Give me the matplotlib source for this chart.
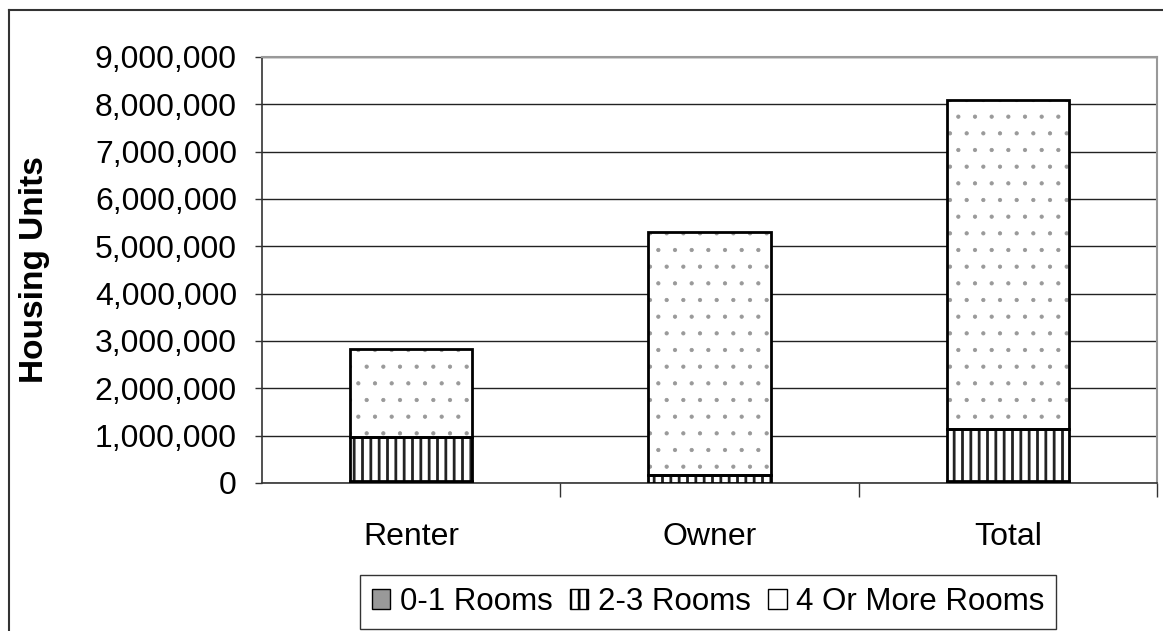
import matplotlib
matplotlib.use("Agg")
import matplotlib.pyplot as plt
from matplotlib.patches import Patch
from matplotlib.lines import Line2D
import numpy as np

categories = ["Renter", "Owner", "Total"]
rooms_0_1 = [40000, 6000, 46000]
rooms_2_3 = [930000, 164000, 1094000]
rooms_4_plus = [1860000, 5130000, 6960000]
series_labels = ["0-1 Rooms", "2-3 Rooms", "4 Or More Rooms"]
y_ticks = list(range(0, 9000001, 1000000))

plt.rcParams['font.family'] = ['Liberation Sans', 'DejaVu Sans']
plt.rcParams['hatch.linewidth'] = 2.0

fig = plt.figure(figsize=(11.63, 6.31), dpi=100)
ax = fig.add_axes([262/1163, 1-483/631, (1157-262)/1163, (483-57)/631])

x = np.arange(len(categories))
w = 0.41
b1 = np.array(rooms_0_1, dtype=float)
b2 = b1 + np.array(rooms_2_3)

ax.bar(x, rooms_0_1, w, color="#999999", edgecolor="black", linewidth=2, zorder=3)
ax.bar(x, rooms_2_3, w, bottom=b1, color="white", edgecolor="#222222", hatch="||", linewidth=0, zorder=3)
ax.bar(x, rooms_2_3, w, bottom=b1, color="none", edgecolor="black", linewidth=2, zorder=4)
with plt.rc_context({'hatch.linewidth': 0.6}):
    ax.bar(x, rooms_4_plus, w, bottom=b2, color="white", edgecolor="#999999", hatch=".", linewidth=0, zorder=3)
ax.bar(x, rooms_4_plus, w, bottom=b2, color="none", edgecolor="black", linewidth=2, zorder=4)

ax.set_xlim(-0.5, 2.5)
ax.set_ylim(0, 9000000)
ax.set_yticks(y_ticks)
ax.set_yticklabels([f"{v:,}" for v in y_ticks], fontsize=23)
ax.set_xticks(x)
ax.set_xticklabels(categories, fontsize=23)
ax.tick_params(axis='x', which='major', length=0, pad=28)
ax.set_xticks([0.5, 1.5, 2.5], minor=True)
ax.tick_params(axis='x', which='minor', length=10, width=1, color="#333333", direction='out')
ax.tick_params(axis='y', length=5, width=1, color="#333333", pad=13)
ax.yaxis.grid(True, color="#222222", linewidth=1)
ax.set_axisbelow(True)
for s in ["top", "right"]:
    ax.spines[s].set_color("#999999")
    ax.spines[s].set_linewidth(1.5)
for s in ["left", "bottom"]:
    ax.spines[s].set_color("#333333")
    ax.spines[s].set_linewidth(1.2)

ax.set_ylabel("Housing Units", fontsize=24, fontweight="bold")
ax.yaxis.set_label_coords((50-262)/895, 0.5)

handles = [
    Patch(facecolor="#999999", edgecolor="black", linewidth=1),
    Patch(facecolor="white", edgecolor="black", hatch="||", linewidth=1),
    Patch(facecolor="white", edgecolor="black", linewidth=1),
]
leg = fig.legend(handles, series_labels, loc="center", bbox_to_anchor=(708/1163, 1-602/631),
                 ncol=3, fontsize=22.5, frameon=True, fancybox=False, edgecolor="black",
                 handlelength=0.6, handleheight=0.6, handletextpad=0.3, columnspacing=0.55,
                 borderpad=0.38)
leg.get_frame().set_linewidth(1)

# chart frame (top and left edges visible)
fig.add_artist(Line2D([9/1163, 9/1163], [0, 1-10/631], transform=fig.transFigure, color="#333333", lw=1.5))
fig.add_artist(Line2D([9/1163, 1.0], [1-10/631, 1-10/631], transform=fig.transFigure, color="#333333", lw=1.5))

fig.savefig("out.png", dpi=100)
